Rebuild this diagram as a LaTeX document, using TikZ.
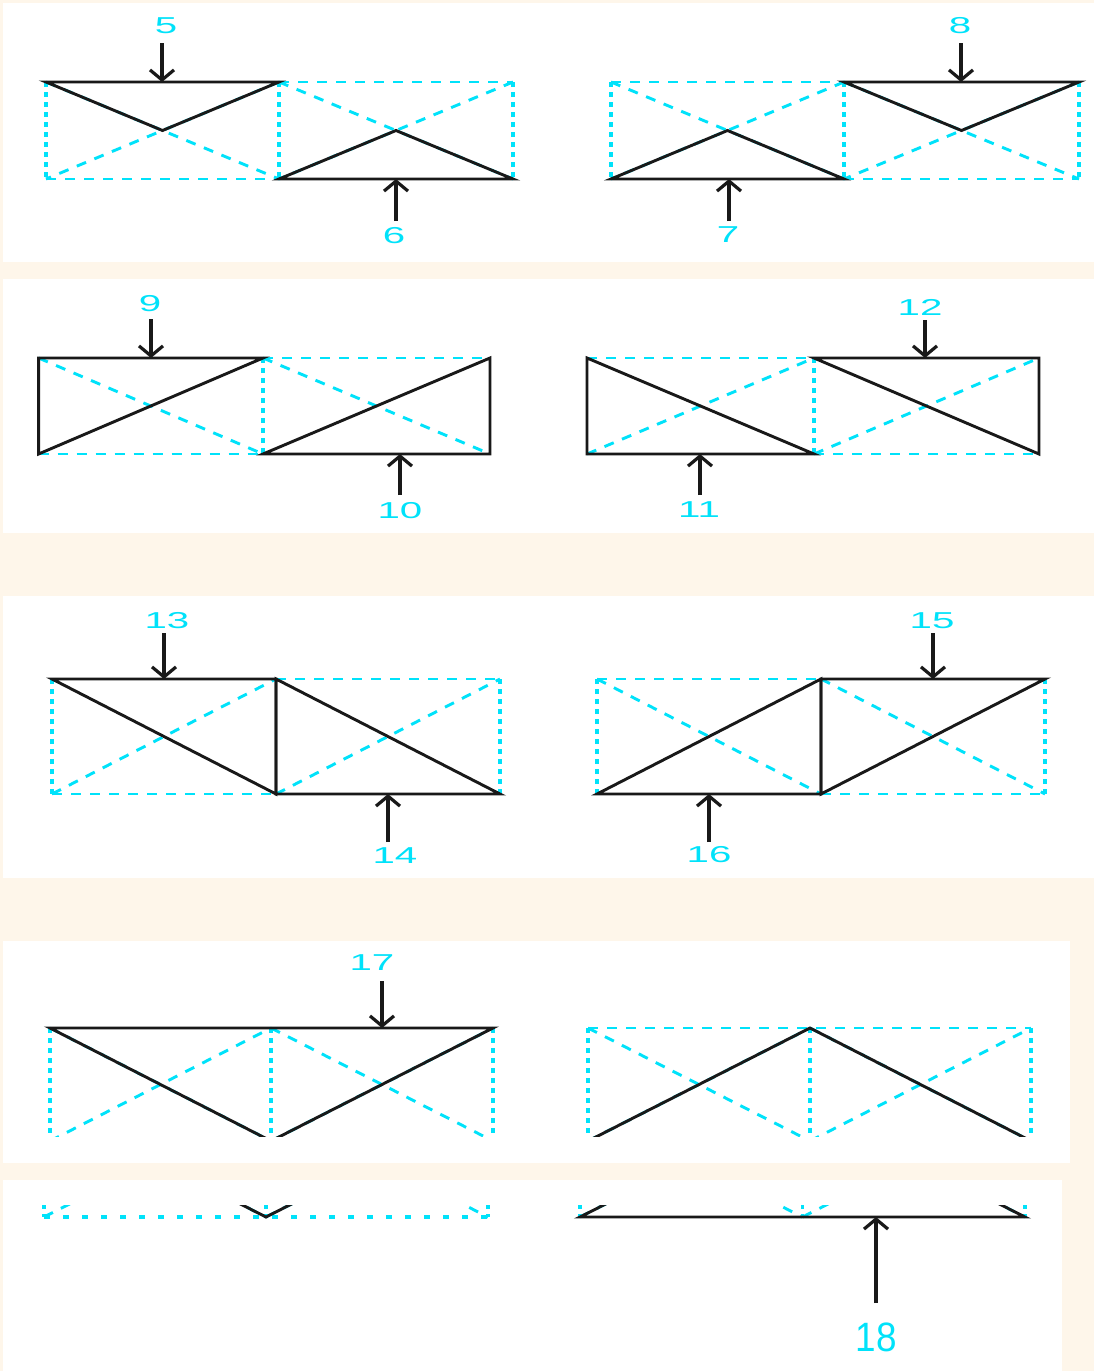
\documentclass[tikz,border=0pt]{standalone}
\usepackage{fontspec}
\setmainfont{Liberation Sans}
\usetikzlibrary{arrows.meta,calc}
\definecolor{cyanc}{RGB}{0,226,250}
\definecolor{creambg}{RGB}{254,246,234}
\definecolor{inkc}{RGB}{25,25,25}
\tikzset{
  blk/.style={draw=inkc,line width=2.9pt,line join=miter},
  cdash/.style={draw=cyanc,line width=2.9pt,dash pattern=on 10pt off 9pt},
  cdot/.style={draw=cyanc,line width=3.6pt,dash pattern=on 5pt off 5pt},
  gbot/.style={cdash},
  loadarr/.style={draw=inkc,line width=3.2pt,-{Straight Barb[length=10pt,width=24pt,line width=3.2pt]}},
  numlbl/.style={text=cyanc,font=\fontsize{23}{23}\selectfont,inner sep=0pt,xscale=1.75},
  panel/.style={fill=white,draw=none},
}
% prefix, x0, xm, x1, ytop, ybottom
\newcommand\mkpair[6]{%
  \coordinate (#1tl) at (#2,#5);
  \coordinate (#1tm) at (#3,#5);
  \coordinate (#1tr) at (#4,#5);
  \coordinate (#1bl) at (#2,#6);
  \coordinate (#1bm) at (#3,#6);
  \coordinate (#1br) at (#4,#6);
  \coordinate (#1cl) at ($(#1tl)!0.5!(#1bm)$);
  \coordinate (#1cr) at ($(#1tm)!0.5!(#1br)$);
}
\newcommand\figG[6]{%
  \mkpair{#1}{#2}{#3}{#4}{#5}{#6}
  \draw[cdot] (#1tl)--(#1bl) (#1tm)--(#1bm) (#1tr)--(#1br);
  \draw[gbot] (#1bl)--(#1br);
  \draw[cdash] (#1bl)--(#1tm) (#1tm)--(#1br);
  \draw[cdash] (#1tl)--(#1bm) (#1bm)--(#1tr);
  \draw[blk] (#1tl)--(#1tr)--(#1bm)--cycle;
}
\newcommand\figH[6]{%
  \mkpair{#1}{#2}{#3}{#4}{#5}{#6}
  \draw[cdot] (#1tl)--(#1bl) (#1tm)--(#1bm) (#1tr)--(#1br);
  \draw[cdash] (#1tl)--(#1tr);
  \draw[cdash] (#1tl)--(#1bm) (#1bm)--(#1tr);
  \draw[cdash] (#1bl)--(#1tm) (#1tm)--(#1br);
  \draw[blk] (#1bl)--(#1br)--(#1tm)--cycle;
}
\begin{document}
\begin{tikzpicture}[x=1pt,y=-1pt]
\useasboundingbox (0,0) rectangle (1094,1371);
% background and panels
\fill[creambg] (0,0) rectangle (1094,1371);
\path[panel] (3,3) rectangle (1094,262);
\path[panel] (3,279) rectangle (1094,533);
\path[panel] (3,596) rectangle (1094,878);
\path[panel] (3,941) rectangle (1070,1163);
\path[panel] (3,1180) rectangle (1062,1371);

% ---------- Panel 1 left (V | Lambda)
\mkpair{a}{46}{279}{513}{82}{179}
\draw[cdot] (atl)--(abl) (atm)--(abm) (atr)--(abr);
\draw[cdash] (abl)--(abm) (atm)--(atr);
\draw[cdash] (atl)--(abm) (atm)--(abl) (atm)--(abr) (atr)--(abm);
\draw[blk] (atl)--(atm)--(acl)--cycle;
\draw[blk] (abm)--(abr)--(acr)--cycle;

% ---------- Panel 1 right (Lambda | V)
\mkpair{b}{611}{844}{1079}{82}{179}
\draw[cdot] (btl)--(bbl) (btm)--(bbm) (btr)--(bbr);
\draw[cdash] (btl)--(btm) (bbm)--(bbr);
\draw[cdash] (btl)--(bbm) (btm)--(bbl) (btm)--(bbr) (btr)--(bbm);
\draw[blk] (bbl)--(bbm)--(bcl)--cycle;
\draw[blk] (btm)--(btr)--(bcr)--cycle;

% ---------- Panel 2 left
\mkpair{c}{38.6}{263}{490}{358}{454}
\draw[cdot] (ctm)--(cbm);
\draw[cdash] (cbl)--(cbm) (ctm)--(ctr);
\draw[cdash] (ctl)--(cbm) (ctm)--(cbr);
\draw[blk] (ctl)--(ctm)--(cbl)--cycle;
\draw[blk] (cbm)--(cbr)--(ctr)--cycle;

% ---------- Panel 2 right
\mkpair{d}{587}{814}{1039}{358}{454}
\draw[cdot] (dtm)--(dbm);
\draw[cdash] (dtl)--(dtm) (dbm)--(dbr);
\draw[cdash] (dbl)--(dtm) (dbm)--(dtr);
\draw[blk] (dtl)--(dbl)--(dbm)--cycle;
\draw[blk] (dtm)--(dtr)--(dbr)--cycle;

% ---------- Panel 3 left
\mkpair{e}{52}{276}{500}{679}{794}
\draw[cdot] (etl)--(ebl) (etr)--(ebr);
\draw[cdash] (ebl)--(ebm) (etm)--(etr);
\draw[cdash] (ebl)--(etm) (ebm)--(etr);
\draw[blk] (etl)--(etm)--(ebm)--cycle;
\draw[blk] (etm)--(ebm)--(ebr)--cycle;

% ---------- Panel 3 right
\mkpair{f}{597}{821}{1045}{679}{794}
\draw[cdot] (ftl)--(fbl) (ftr)--(fbr);
\draw[cdash] (ftl)--(ftm) (fbm)--(fbr);
\draw[cdash] (ftl)--(fbm) (ftm)--(fbr);
\draw[blk] (fbl)--(fbm)--(ftm)--cycle;
\draw[blk] (ftm)--(ftr)--(fbm)--cycle;

% ---------- Panel 4 (top part, cut)
\begin{scope}
  \clip (0,941) rectangle (1094,1136);
  \figG{g}{50}{271}{493}{1028}{1141}
  \figH{h}{588}{810}{1031}{1028}{1141}
\end{scope}

% ---------- Panel 5 (bottom part of the same figures)
\begin{scope}[gbot/.style={draw=cyanc,line width=3.2pt,dash pattern=on 6pt off 13pt}]
  \clip (0,1205) rectangle (1094,1222);
  \figG{gg}{44}{266}{488}{1104}{1217}
  \figH{hh}{580}{802.5}{1025}{1104}{1217}
\end{scope}

% ---------- loads and labels
\coordinate (s5) at (162,43);  \coordinate (e5) at (162,82);
\coordinate (s6) at (396,221); \coordinate (e6) at (396,179);
\coordinate (s7) at (729,221); \coordinate (e7) at (729,179);
\coordinate (s8) at (961,43);  \coordinate (e8) at (961,82);
\coordinate (s9) at (151,319); \coordinate (e9) at (151,358);
\coordinate (s10) at (400,495); \coordinate (e10) at (400,454);
\coordinate (s11) at (700,495); \coordinate (e11) at (700,454);
\coordinate (s12) at (925,320); \coordinate (e12) at (925,358);
\coordinate (s13) at (164,633); \coordinate (e13) at (164,679);
\coordinate (s14) at (388,842); \coordinate (e14) at (388,794);
\coordinate (s15) at (933,633); \coordinate (e15) at (933,679);
\coordinate (s16) at (709,842); \coordinate (e16) at (709,794);
\coordinate (s17) at (382,981); \coordinate (e17) at (382,1028);
\coordinate (s18) at (876,1303); \coordinate (e18) at (876,1217);
\foreach \k in {5,...,18} {\draw[loadarr] (s\k)--(e\k);}

\node[numlbl] (l5)  at (166,26)  {5};
\node[numlbl] (l6)  at (394,236) {6};
\node[numlbl] (l7)  at (728,235) {7};
\node[numlbl] (l8)  at (960,26)  {8};
\node[numlbl] (l9)  at (150,304) {9};
\node[numlbl] (l10) at (400,511) {10};
\node[numlbl] (l11) at (699,510) {11};
\node[numlbl] (l12) at (920,307) {12};
\node[numlbl] (l13) at (167,621) {13};
\node[numlbl] (l14) at (395,856) {14};
\node[numlbl] (l15) at (932,621) {15};
\node[numlbl] (l16) at (709,855) {16};
\node[numlbl] (l17) at (372,963) {17};
\node[text=cyanc,font=\fontsize{41}{41}\selectfont,inner sep=0pt,xscale=0.9] (l18) at (876,1337) {18};
\end{tikzpicture}
\end{document}
